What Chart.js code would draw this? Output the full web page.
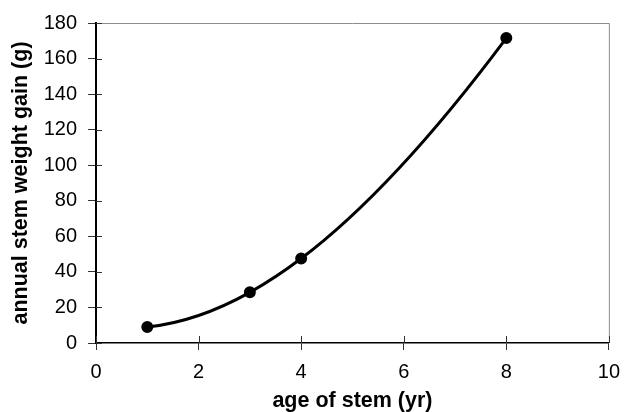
<!DOCTYPE html>
<html>
<head>
<meta charset="utf-8">
<script src="https://cdn.jsdelivr.net/npm/chart.js@4.4.1/dist/chart.umd.min.js"></script>
<style>
  html, body { margin: 0; padding: 0; background: #ffffff; }
  #wrap { width: 630px; height: 412px; }
</style>
</head>
<body>
<div id="wrap"><canvas id="c" width="630" height="412"></canvas></div>
<script>
// ---- data ----
const ages = [1, 3, 4, 8];                 // age of stem (yr)
const gains = [9, 28.5, 47.5, 171.5];      // annual stem weight gain (g)
const xTicks = [0, 2, 4, 6, 8, 10];
const yTicks = [0, 20, 40, 60, 80, 100, 120, 140, 160, 180];
const xTitle = 'age of stem (yr)';
const yTitle = 'annual stem weight gain (g)';

const points = ages.map((a, i) => ({ x: a, y: gains[i] }));

// slope of the smooth curve through the data points (for bezier handles)
function curveValue(x) {
  let s = 0;
  for (let j = 0; j < ages.length; j++) {
    let l = 1;
    for (let m = 0; m < ages.length; m++) {
      if (m !== j) l *= (x - ages[m]) / (ages[j] - ages[m]);
    }
    s += gains[j] * l;
  }
  return s;
}
function curveSlope(x) {
  const e = 1e-4;
  return (curveValue(x + e) - curveValue(x - e)) / (2 * e);
}

// set bezier control points of the data line so it runs smoothly through the points
const smoothPlugin = {
  id: 'smooth',
  beforeDatasetsDraw(chart) {
    const meta = chart.getDatasetMeta(0);
    const xs = chart.scales.x, ys = chart.scales.y;
    const pts = meta.data;
    for (let i = 0; i < pts.length; i++) {
      const xv = ages[i], yv = gains[i], m = curveSlope(xv);
      const hPrev = i > 0 ? (ages[i] - ages[i - 1]) / 3 : 0;
      const hNext = i < pts.length - 1 ? (ages[i + 1] - ages[i]) / 3 : 0;
      pts[i].cp1x = xs.getPixelForValue(xv - hPrev);
      pts[i].cp1y = ys.getPixelForValue(yv - m * hPrev);
      pts[i].cp2x = xs.getPixelForValue(xv + hNext);
      pts[i].cp2y = ys.getPixelForValue(yv + m * hNext);
    }
    if (meta.dataset) {
      meta.dataset._pointsUpdated = true;
      meta.dataset._path = undefined;
    }
  }
};

// crossing tick marks + gray top/right frame
const framePlugin = {
  id: 'frame',
  afterDraw(chart) {
    const { ctx, chartArea: a, scales } = chart;
    ctx.save();
    ctx.strokeStyle = '#8c8c8c';
    ctx.lineWidth = 1;
    ctx.beginPath();
    ctx.moveTo(a.left, a.top + 0.5);
    ctx.lineTo(a.right + 0.5, a.top + 0.5);
    ctx.lineTo(a.right + 0.5, a.bottom);
    ctx.stroke();
    ctx.strokeStyle = '#333333';
    ctx.lineWidth = 1;
    ctx.beginPath();
    xTicks.forEach(v => {
      const px = Math.round(scales.x.getPixelForValue(v)) + 0.5;
      ctx.moveTo(px, a.bottom);
      ctx.lineTo(px, a.bottom - 7);
    });
    yTicks.forEach(v => {
      const py = Math.round(scales.y.getPixelForValue(v)) + 0.5;
      ctx.moveTo(a.left, py);
      ctx.lineTo(a.left + 6, py);
    });
    ctx.stroke();
    ctx.restore();
  }
};

new Chart(document.getElementById('c'), {
  type: 'scatter',
  data: {
    datasets: [{
      data: points,
      showLine: true,
      borderColor: '#000000',
      backgroundColor: '#000000',
      borderWidth: 3,
      pointRadius: 4.5,
      pointHoverRadius: 4.5,
      pointBackgroundColor: '#000000',
      pointBorderColor: '#000000',
      tension: 0.4,
      clip: false
    }]
  },
  options: {
    responsive: false,
    animation: false,
    events: [],
    layout: { padding: { top: 21, right: 14, left: 0, bottom: 0 } },
    plugins: {
      legend: { display: false },
      tooltip: { enabled: false },
      title: { display: false }
    },
    scales: {
      x: {
        type: 'linear',
        min: 0, max: 10,
        afterFit(s) { s.height = 69; },
        afterBuildTicks(s) { s.ticks = xTicks.map(v => ({ value: v })); },
        grid: { display: true, drawOnChartArea: false, drawTicks: true, tickLength: 7, color: '#333333', lineWidth: 1 },
        border: { display: true, color: '#000000', width: 1.5 },
        ticks: { color: '#000000', padding: 10, maxRotation: 0, autoSkip: false,
                 font: { family: 'Liberation Sans, Arial, sans-serif', size: 20 } },
        title: { display: true, text: xTitle, color: '#000000', padding: { top: 0, bottom: 0 },
                 font: { family: 'Liberation Sans, Arial, sans-serif', size: 21.5, weight: 'bold', lineHeight: 1 } }
      },
      y: {
        type: 'linear',
        min: 0, max: 180,
        afterFit(s) { s.width = 96; },
        afterBuildTicks(s) { s.ticks = yTicks.map(v => ({ value: v })); },
        grid: { display: true, drawOnChartArea: false, drawTicks: true, tickLength: 8, color: '#333333', lineWidth: 1 },
        border: { display: true, color: '#000000', width: 2 },
        ticks: { color: '#000000', padding: 11, autoSkip: false,
                 font: { family: 'Liberation Sans, Arial, sans-serif', size: 20 } },
        title: { display: true, text: yTitle, color: '#000000', padding: { top: 10, bottom: 0 },
                 font: { family: 'Liberation Sans, Arial, sans-serif', size: 21.5, weight: 'bold', lineHeight: 1 } }
      }
    }
  },
  plugins: [smoothPlugin, framePlugin]
});
</script>
</body>
</html>
